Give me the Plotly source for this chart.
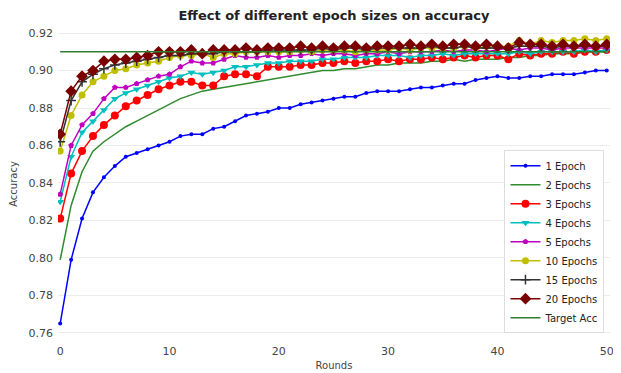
import plotly.graph_objects as go

rounds = list(range(51))

epoch1 = [0.765, 0.799, 0.821, 0.835, 0.843, 0.849, 0.854, 0.856, 0.858, 0.860,
          0.862, 0.865, 0.866, 0.866, 0.869, 0.870, 0.873, 0.876, 0.877, 0.878,
          0.880, 0.880, 0.882, 0.883, 0.884, 0.885, 0.886, 0.886, 0.888, 0.889,
          0.889, 0.889, 0.890, 0.891, 0.891, 0.892, 0.893, 0.893, 0.895, 0.896,
          0.897, 0.896, 0.896, 0.897, 0.897, 0.898, 0.898, 0.898, 0.899, 0.900, 0.900]
epoch2 = [0.799, 0.828, 0.846, 0.857, 0.862, 0.866, 0.870, 0.873, 0.876, 0.879,
          0.882, 0.885, 0.887, 0.889, 0.890, 0.891, 0.892, 0.893, 0.894, 0.895,
          0.896, 0.897, 0.898, 0.899, 0.900, 0.900, 0.901, 0.901, 0.902, 0.903,
          0.903, 0.904, 0.904, 0.904, 0.905, 0.905, 0.906, 0.905, 0.906, 0.906,
          0.906, 0.907, 0.907, 0.908, 0.908, 0.909, 0.909, 0.909, 0.910, 0.910, 0.910]
epoch3 = [0.821, 0.845, 0.857, 0.865, 0.871, 0.876, 0.881, 0.884, 0.887, 0.890,
          0.892, 0.894, 0.894, 0.892, 0.892, 0.897, 0.898, 0.898, 0.897, 0.902,
          0.902, 0.902, 0.903, 0.903, 0.904, 0.904, 0.905, 0.904, 0.905, 0.905,
          0.906, 0.905, 0.906, 0.906, 0.907, 0.906, 0.907, 0.908, 0.907, 0.908,
          0.908, 0.906, 0.909, 0.908, 0.909, 0.909, 0.910, 0.909, 0.910, 0.910, 0.911]
epoch4 = [0.830, 0.854, 0.867, 0.873, 0.879, 0.885, 0.888, 0.890, 0.892, 0.894,
          0.896, 0.897, 0.899, 0.898, 0.899, 0.900, 0.902, 0.902, 0.903, 0.904,
          0.904, 0.905, 0.905, 0.905, 0.906, 0.906, 0.907, 0.907, 0.907, 0.908,
          0.908, 0.908, 0.907, 0.908, 0.908, 0.909, 0.908, 0.909, 0.909, 0.909,
          0.909, 0.909, 0.910, 0.909, 0.910, 0.910, 0.910, 0.910, 0.911, 0.910, 0.911]
epoch5 = [0.834, 0.860, 0.871, 0.877, 0.885, 0.891, 0.891, 0.893, 0.895, 0.897,
          0.898, 0.902, 0.905, 0.904, 0.904, 0.906, 0.908, 0.907, 0.907, 0.908,
          0.907, 0.908, 0.908, 0.909, 0.908, 0.909, 0.909, 0.908, 0.909, 0.909,
          0.910, 0.909, 0.910, 0.910, 0.910, 0.911, 0.910, 0.911, 0.911, 0.910,
          0.911, 0.912, 0.911, 0.912, 0.912, 0.911, 0.912, 0.912, 0.912, 0.912, 0.912]
epoch10 = [0.857, 0.876, 0.887, 0.894, 0.897, 0.900, 0.901, 0.903, 0.904, 0.905,
           0.907, 0.908, 0.908, 0.909, 0.907, 0.909, 0.909, 0.910, 0.910, 0.910,
           0.910, 0.910, 0.911, 0.910, 0.911, 0.911, 0.911, 0.910, 0.911, 0.911,
           0.911, 0.912, 0.911, 0.912, 0.912, 0.912, 0.912, 0.913, 0.912, 0.913,
           0.913, 0.913, 0.916, 0.914, 0.916, 0.915, 0.916, 0.916, 0.917, 0.916, 0.917]
epoch15 = [0.862, 0.884, 0.894, 0.898, 0.901, 0.903, 0.904, 0.905, 0.906, 0.907,
           0.908, 0.908, 0.909, 0.909, 0.909, 0.910, 0.910, 0.910, 0.910, 0.911,
           0.911, 0.911, 0.911, 0.911, 0.912, 0.911, 0.912, 0.912, 0.911, 0.912,
           0.912, 0.912, 0.912, 0.912, 0.913, 0.912, 0.912, 0.913, 0.912, 0.912,
           0.912, 0.912, 0.913, 0.913, 0.913, 0.912, 0.913, 0.913, 0.913, 0.913, 0.913]
epoch20 = [0.866, 0.889, 0.897, 0.900, 0.905, 0.906, 0.906, 0.907, 0.908, 0.910,
           0.910, 0.910, 0.911, 0.909, 0.911, 0.911, 0.911, 0.912, 0.911, 0.912,
           0.912, 0.912, 0.913, 0.912, 0.913, 0.912, 0.913, 0.913, 0.912, 0.913,
           0.913, 0.913, 0.914, 0.913, 0.914, 0.913, 0.914, 0.914, 0.913, 0.914,
           0.913, 0.912, 0.915, 0.914, 0.914, 0.913, 0.914, 0.913, 0.914, 0.913, 0.914]
target_acc = 0.91

series = [
    ("1 Epoch", epoch1, "#0000ff", "circle", 4),
    ("2 Epochs", epoch2, "#2e8b2e", None, 0),
    ("3 Epochs", epoch3, "#ff0000", "circle", 8),
    ("4 Epochs", epoch4, "#00bfbf", "triangle-down", 7),
    ("5 Epochs", epoch5, "#bf00bf", "pentagon", 6),
    ("10 Epochs", epoch10, "#bfbf00", "circle", 7),
    ("15 Epochs", epoch15, "#333333", "cross-thin", 7),
    ("20 Epochs", epoch20, "#7a0000", "diamond", 9),
]

fig = go.Figure()
for name, vals, col, sym, sz in series:
    if sym is None:
        fig.add_trace(go.Scatter(x=rounds, y=vals, name=name, mode="lines",
                                 line=dict(color=col, width=1.5)))
    else:
        fig.add_trace(go.Scatter(x=rounds, y=vals, name=name, mode="lines+markers",
                                 line=dict(color=col, width=1.5),
                                 marker=dict(symbol=sym, size=sz, color=col,
                                             line=dict(color=col, width=1.5 if sym == "cross-thin" else 0))))
fig.add_trace(go.Scatter(x=[rounds[0], rounds[-1]], y=[target_acc, target_acc], name="Target Acc",
                         mode="lines", line=dict(color="#2e7d2e", width=1.5)))

# page body has an 8px default margin, so the figure is sized 8px smaller
fig.update_layout(
    width=613, height=365,
    margin=dict(l=50, r=11, t=20, b=33),
    paper_bgcolor="white", plot_bgcolor="white",
    font=dict(family="DejaVu Sans", size=10, color="#444"),
    title=dict(text="<b>Effect of different epoch sizes on accuracy</b>", x=0.5, xref="paper",
               y=0.993, yanchor="top", pad=dict(t=0, b=0), font=dict(size=13, color="#222")),
    xaxis=dict(title=dict(text="Rounds", standoff=4, font=dict(size=10)), range=[-0.2, 50.3],
               tickvals=[0, 10, 20, 30, 40, 50], showgrid=False, zeroline=False,
               showline=False, tickfont=dict(size=11), ticks="", automargin=False,
               ticklabelstandoff=3),
    yaxis=dict(title=dict(text="Accuracy", standoff=12, font=dict(size=10)), range=[0.7562, 0.9227],
               tickvals=[0.76, 0.78, 0.80, 0.82, 0.84, 0.86, 0.88, 0.90, 0.92], tickformat=".2f",
               showgrid=True, gridcolor="#ececec", zeroline=False, showline=False,
               tickfont=dict(size=11), ticks="", automargin=False, ticklabelstandoff=4),
    legend=dict(x=0.99, y=0.022, xanchor="right", yanchor="bottom", bgcolor="white",
                bordercolor="#dddddd", borderwidth=1, font=dict(size=10, color="#222"),
                tracegroupgap=0, itemwidth=30),
    showlegend=True,
)

fig.write_html("out.html")
